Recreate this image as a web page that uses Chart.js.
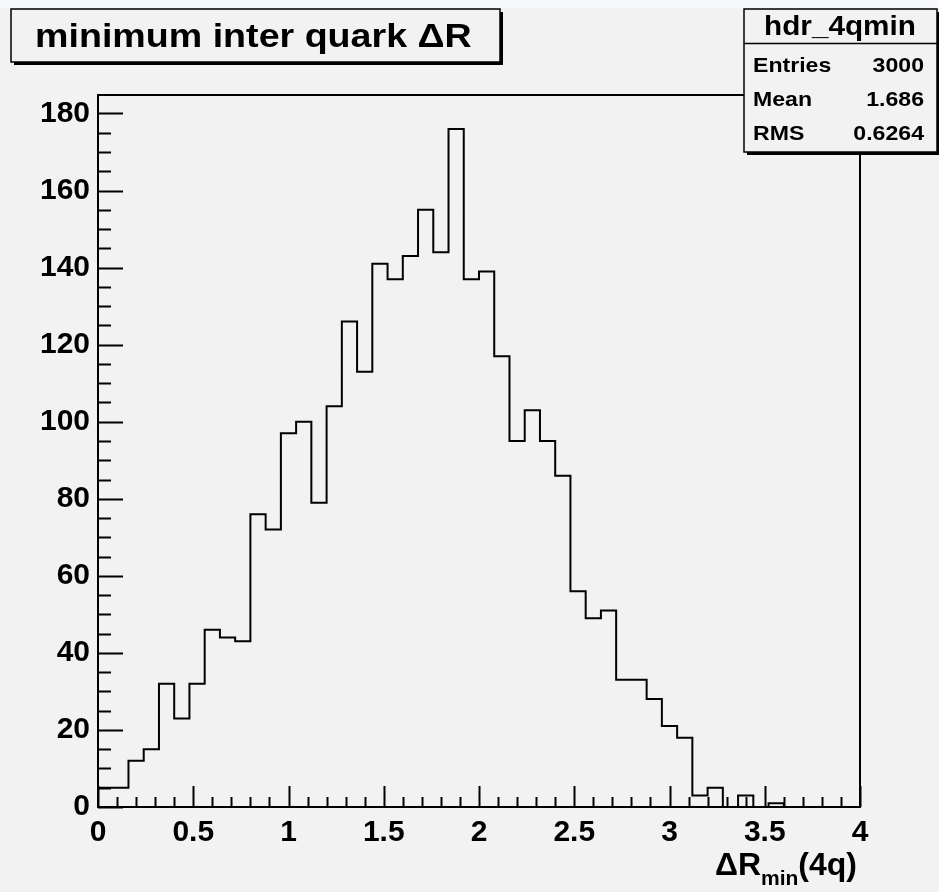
<!DOCTYPE html>
<html>
<head>
<meta charset="utf-8">
<script src="https://cdn.jsdelivr.net/npm/chart.js@4.4.0/dist/chart.umd.min.js"></script>
<style>
  html, body { margin: 0; padding: 0; background: #f2f2f2; }
  canvas { display: block; }
</style>
</head>
<body>
<canvas id="hist" width="939" height="892"></canvas>
<script>
// histogram hdr_4qmin : 50 bins from 0 to 4
const binLow = 0;
const binWidth = 0.08;
const binCounts = [
    5, 5, 12, 15, 32, 23, 32, 46, 44, 43,
    76, 72, 97, 100, 79, 104, 126, 113, 141, 137,
    143, 155, 144, 176, 137, 139, 117, 95, 103, 95,
    86, 56, 49, 51, 33, 33, 28, 21, 18, 3,
    5, 0, 3, 0, 1, 0, 0, 0, 0, 0
];

const xTickValues = [0, 0.5, 1, 1.5, 2, 2.5, 3, 3.5, 4];
const xTickLabels = ['0', '0.5', '1', '1.5', '2', '2.5', '3', '3.5', '4'];
const yTickValues = [0, 20, 40, 60, 80, 100, 120, 140, 160, 180];
const yTickLabels = ['0', '20', '40', '60', '80', '100', '120', '140', '160', '180'];

const titleText = 'minimum inter quark \u0394R';
const histName = 'hdr_4qmin';
const statsLabels = ['Entries', 'Mean', 'RMS'];
const statsValues = ['3000', '1.686', '0.6264'];

const BG = '#f2f2f2';
const FONT = '"Liberation Sans", Arial, Helvetica, sans-serif';

// outline points for a stepped line (ROOT style histogram)
const points = [{ x: binLow, y: 0 }];
binCounts.forEach((c, i) => points.push({ x: binLow + i * binWidth, y: c }));
points.push({ x: binLow + binCounts.length * binWidth, y: 0 });

function stretchText(ctx, text, x, y, sx, align) {
    ctx.save();
    ctx.translate(x, y);
    ctx.scale(sx, 1);
    ctx.textAlign = align;
    ctx.textBaseline = 'alphabetic';
    ctx.fillText(text, 0, 0);
    ctx.restore();
}

function shadowBox(ctx, x, y, w, h) {
    ctx.fillStyle = '#000';
    ctx.fillRect(x + 3, y + 3, w, h);
    ctx.fillStyle = BG;
    ctx.fillRect(x, y, w, h);
    ctx.strokeStyle = '#000';
    ctx.lineWidth = 1.5;
    ctx.strokeRect(x, y, w, h);
}

const rootDecor = {
    id: 'rootDecor',
    beforeDraw(chart) {
        const ctx = chart.ctx;
        ctx.save();
        ctx.fillStyle = BG;
        ctx.fillRect(0, 0, chart.width, chart.height);
        ctx.fillStyle = '#f7f9fc';
        ctx.fillRect(0, 0, chart.width, 8);
        ctx.restore();
    },
    afterDatasetsDraw(chart) {
        const ctx = chart.ctx;
        const a = chart.chartArea;
        const xs = chart.scales.x;
        const ys = chart.scales.y;
        ctx.save();

        // frame
        ctx.strokeStyle = '#000';
        ctx.lineWidth = 2;
        ctx.strokeRect(a.left, a.top, a.right - a.left, a.bottom - a.top);

        // x ticks, pointing inward
        ctx.lineWidth = 2;
        for (let k = 0; k <= 40; k++) {
            const px = Math.round(xs.getPixelForValue(k / 10)) + 0.5;
            const len = k % 5 === 0 ? 21 : 10;
            ctx.beginPath();
            ctx.moveTo(px, a.bottom);
            ctx.lineTo(px, a.bottom - len);
            ctx.stroke();
        }
        // y ticks
        for (let v = 0; v <= 180; v += 5) {
            const py = Math.round(ys.getPixelForValue(v)) + 0.5;
            const len = v % 20 === 0 ? 25 : 13;
            ctx.beginPath();
            ctx.moveTo(a.left, py);
            ctx.lineTo(a.left + len, py);
            ctx.stroke();
        }

        ctx.fillStyle = '#000';

        // x axis title  ΔR_min(4q), right aligned at axis end
        const right = a.right - 3;
        ctx.font = 'bold 32px ' + FONT;
        const wParen = ctx.measureText('(4q)').width;
        const wDR = ctx.measureText('\u0394R').width;
        ctx.font = 'bold 21px ' + FONT;
        const wMin = ctx.measureText('min').width;
        let x0 = right - wParen - wMin - wDR;
        ctx.font = 'bold 32px ' + FONT;
        stretchText(ctx, '\u0394R', x0, 875, 1, 'left');
        ctx.font = 'bold 21px ' + FONT;
        stretchText(ctx, 'min', x0 + wDR, 885, 1, 'left');
        ctx.font = 'bold 32px ' + FONT;
        stretchText(ctx, '(4q)', x0 + wDR + wMin, 875, 1, 'left');

        // title box
        shadowBox(ctx, 11, 9, 489, 53);
        ctx.fillStyle = '#000';
        ctx.font = 'bold 33px ' + FONT;
        stretchText(ctx, titleText, 35, 47, 1.14, 'left');

        // stats box
        shadowBox(ctx, 744, 9, 193, 143);
        ctx.beginPath();
        ctx.moveTo(744, 43.5);
        ctx.lineTo(937, 43.5);
        ctx.stroke();
        ctx.fillStyle = '#000';
        ctx.font = 'bold 27px ' + FONT;
        stretchText(ctx, histName, 840, 35, 1.1, 'center');
        ctx.font = 'bold 21px ' + FONT;
        statsLabels.forEach((lab, i) => {
            const by = 72 + i * 34;
            stretchText(ctx, lab, 753, by, 1.1, 'left');
            stretchText(ctx, statsValues[i], 924, by, 1.1, 'right');
        });

        ctx.restore();
    }
};

new Chart(document.getElementById('hist'), {
    type: 'line',
    data: {
        datasets: [{
            data: points,
            stepped: true,
            borderColor: '#000',
            borderWidth: 2,
            pointRadius: 0,
            fill: false
        }]
    },
    options: {
        responsive: false,
        animation: false,
        devicePixelRatio: 1,
        layout: { padding: { top: 95, right: 79, left: 0, bottom: 0 } },
        plugins: {
            legend: { display: false },
            tooltip: { enabled: false }
        },
        scales: {
            x: {
                type: 'linear',
                min: 0,
                max: 4,
                grid: { display: false, drawTicks: false },
                border: { display: false },
                afterFit: s => { s.height = 85; },
                afterBuildTicks: s => { s.ticks = xTickValues.map(v => ({ value: v })); },
                ticks: {
                    padding: 8,
                    maxRotation: 0,
                    autoSkip: false,
                    color: '#000',
                    font: { family: FONT, size: 30, weight: 'bold' },
                    callback: (v, i) => xTickLabels[i]
                }
            },
            y: {
                min: 0,
                max: 184.8,
                grid: { display: false, drawTicks: false },
                border: { display: false },
                afterFit: s => { s.width = 98; },
                afterBuildTicks: s => { s.ticks = yTickValues.map(v => ({ value: v })); },
                ticks: {
                    padding: 8,
                    autoSkip: false,
                    color: '#000',
                    font: { family: FONT, size: 30, weight: 'bold' },
                    callback: (v, i) => yTickLabels[i]
                }
            }
        }
    },
    plugins: [rootDecor]
});
</script>
</body>
</html>
